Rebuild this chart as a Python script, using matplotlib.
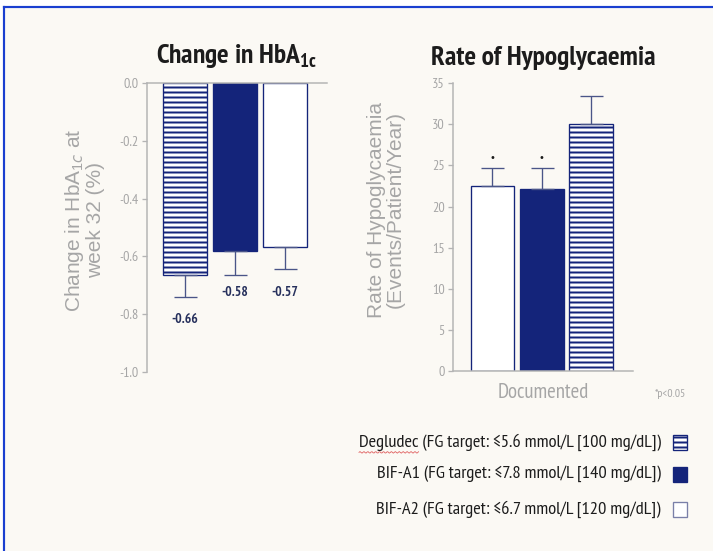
import numpy as np
import matplotlib
matplotlib.use("Agg")
import matplotlib.pyplot as plt
from matplotlib import font_manager as fm
from matplotlib.patches import Rectangle

# data
hba1c_groups = ['Degludec', 'BIF-A1', 'BIF-A2']
hba1c_change = [-0.665, -0.582, -0.567]
hba1c_err = [0.075, 0.083, 0.078]
hba1c_text = ['-0.66', '-0.58', '-0.57']

hypo_groups = ['BIF-A2', 'BIF-A1', 'Degludec']
hypo_rate = [22.5, 22.1, 30.1]
hypo_err = [2.2, 2.6, 3.35]
hypo_signif = [True, True, False]

legend_text = ['Degludec (FG target: \u22645.6 mmol/L [100 mg/dL])',
               'BIF-A1 (FG target: \u22647.8 mmol/L [140 mg/dL])',
               'BIF-A2 (FG target: \u22646.7 mmol/L [120 mg/dL])']

NAVY = '#14247a'
ERRC = '#4a5588'
GREY = '#a6a6a6'
BG = '#fbf9f4'


def wnum(w):
    if isinstance(w, str):
        return {'bold': 700, 'heavy': 800, 'black': 900, 'semibold': 600,
                'demibold': 600, 'normal': 400, 'regular': 400}.get(w.lower(), 400)
    return int(w)


# look for a narrow sans font that also has a bold face
cands = {}
for f in fm.fontManager.ttflist:
    if ('Narrow' in f.name or 'Condensed' in f.name
            or f.stretch in ('condensed', 'semi-condensed')):
        cands.setdefault(f.name, set()).add(wnum(f.weight))
with_bold = [n for n, ws in cands.items() if max(ws) >= 600]
if with_bold:
    NARROW_NAME = sorted(with_bold, key=lambda n: ('Narrow' not in n, n))[0]
elif cands:
    NARROW_NAME = sorted(cands)[0]
else:
    NARROW_NAME = 'Liberation Sans'
NARROW = [NARROW_NAME, 'DejaVu Sans']
REG = ['Liberation Sans', 'DejaVu Sans']

plt.rcParams['font.family'] = NARROW
plt.rcParams['mathtext.fontset'] = 'custom'
plt.rcParams['mathtext.rm'] = 'Liberation Sans'
plt.rcParams['mathtext.bf'] = NARROW_NAME + ':bold'
plt.rcParams['hatch.linewidth'] = 1.2
plt.rcParams['hatch.color'] = NAVY

style = {'Degludec': dict(color='white', edgecolor=NAVY, hatch='----'),
         'BIF-A1': dict(color=NAVY, edgecolor=NAVY),
         'BIF-A2': dict(color='white', edgecolor=NAVY)}

W, H = 713, 551
fig = plt.figure(figsize=(W / 120, H / 120), dpi=120, facecolor='white')

def box(x0, y0, x1, y1):
    # pixel box (top-left origin) -> figure fraction
    return [x0 / W, 1 - y1 / H, (x1 - x0) / W, (y1 - y0) / H]

# slide background and blue frame
fig.patches.append(Rectangle((4 / W, 0), 1, 1 - 7 / H, transform=fig.transFigure,
                             facecolor=BG, edgecolor='none', zorder=-5))
fig.lines.append(plt.Line2D([4 / W, 4 / W], [0, 1 - 7 / H], transform=fig.transFigure,
                            color='#1a3fd0', lw=1.3))
fig.lines.append(plt.Line2D([4 / W, 1], [1 - 7 / H, 1 - 7 / H], transform=fig.transFigure,
                            color='#1a3fd0', lw=1.3))


def setup(ax):
    ax.set_facecolor('none')
    for s in ax.spines.values():
        s.set_color('#b4b4b4')
        s.set_linewidth(0.9)
    ax.tick_params(axis='y', direction='out', length=3, width=0.8, color='#b4b4b4',
                   labelcolor=GREY, labelsize=8.5, pad=2)
    ax.set_xticks([])


# ---- left: change in HbA1c
ax1 = fig.add_axes(box(147, 83.3, 327, 371.7))
setup(ax1)
ax1.spines['right'].set_visible(False)
ax1.spines['bottom'].set_visible(False)
x1 = np.arange(3)
for i, g in enumerate(hba1c_groups):
    ax1.bar(x1[i], hba1c_change[i], width=0.88, linewidth=0.8, zorder=2, **style[g])
ax1.errorbar(x1, hba1c_change, yerr=[hba1c_err, np.zeros(3)], fmt='none',
             ecolor=ERRC, elinewidth=0.8, capsize=6.9, capthick=0.8, zorder=3)
label_y = [-0.82, -0.727, -0.727]
for i in range(3):
    ax1.text(x1[i], label_y[i], hba1c_text[i], ha='center', va='center',
             fontsize=8.2, fontweight='bold', color='#26305c')
ax1.set_xlim(-0.76, 2.84)
ax1.set_ylim(-1.0, 0.0)
yt = np.round(np.arange(-1.0, 0.01, 0.2), 1) + 0.0
ax1.set_yticks(yt)
ax1.set_yticklabels(['%.1f' % v for v in yt])
ax1.set_ylabel('Change in HbA$_{1c}$ at\nweek 32 (%)', fontsize=12.5, color=GREY,
               family=REG, linespacing=1.0)
ax1.yaxis.set_label_coords(-0.235, 0.525)
ax1.set_title('Change in HbA$_{\\mathbf{1c}}$', fontsize=16.5, fontweight='bold',
              color='#1c1c1c', pad=12)

# ---- right: hypoglycaemia rate
ax2 = fig.add_axes(box(453.3, 83.3, 632.7, 371))
setup(ax2)
ax2.spines['right'].set_visible(False)
ax2.spines['top'].set_visible(False)
x2 = np.arange(3)
for i, g in enumerate(hypo_groups):
    ax2.bar(x2[i], hypo_rate[i], width=0.88, linewidth=0.8, zorder=2, **style[g])
ax2.errorbar(x2, hypo_rate, yerr=[np.zeros(3), hypo_err], fmt='none',
             ecolor=ERRC, elinewidth=0.8, capsize=6.9, capthick=0.8, zorder=3)
for i in range(3):
    if hypo_signif[i]:
        ax2.text(x2[i], hypo_rate[i] + hypo_err[i] + 1.2, '\u2022', ha='center',
                 va='center', fontsize=6, color='#1c1c1c', family='DejaVu Sans')
ax2.set_xlim(-0.79, 2.84)
ax2.set_ylim(0, 35)
ax2.set_yticks(range(0, 36, 5))
ax2.set_ylabel('Rate of Hypoglycaemia\n(Events/Patient/Year)', fontsize=12.5,
               color=GREY, family=REG, linespacing=1.0)
ax2.yaxis.set_label_coords(-0.27, 0.56)
ax2.set_title('Rate of Hypoglycaemia', fontsize=16.5, fontweight='bold',
              color='#1c1c1c', pad=11)
ax2.text(0.5, -0.075, 'Documented', transform=ax2.transAxes, ha='center', va='center',
         fontsize=12.5, color=GREY)
fig.text(655 / W, 1 - 394 / H, '*p<0.05', fontsize=7, color=GREY, va='center')

# ---- legend
rows_y = [442.7, 474, 509]
leg_texts = []
for i, g in enumerate(hypo_groups[::-1]):
    yy = 1 - rows_y[i] / H
    leg_texts.append(fig.text(661 / W, yy, legend_text[i], ha='right', va='center',
                              fontsize=11.1, color='#1c1c1c'))
    sq = Rectangle((673 / W, yy - 7.5 / H), 14 / W, 15 / H, transform=fig.transFigure,
                   linewidth=0.8, facecolor=style[g]['color'],
                   edgecolor=style[g]['edgecolor'] if g != 'BIF-A2' else '#7a80a8',
                   hatch='----' if g == 'Degludec' else None)
    fig.patches.append(sq)

# spell-check squiggle under "Degludec"
fig.canvas.draw()
r = fig.canvas.get_renderer()
bb = leg_texts[0].get_window_extent(r)
tmp = fig.text(0, 0, 'Degludec', fontsize=11.1)
wd = tmp.get_window_extent(r).width
tmp.remove()
xs = np.linspace(bb.x0, bb.x0 + wd, 60)
ys = bb.y0 - 1 + 0.8 * np.sin((xs - bb.x0) * 1.6)
fig.lines.append(plt.Line2D(xs / W, ys / H, transform=fig.transFigure,
                            color='#e06060', lw=0.5))

fig.savefig('out.png', dpi=120, facecolor='white')
